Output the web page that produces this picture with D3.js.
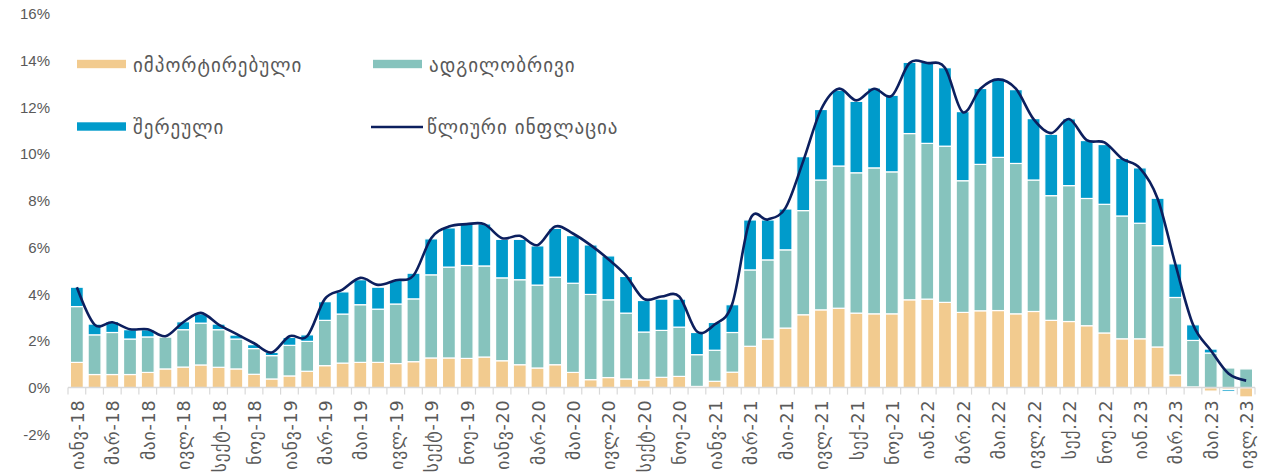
<!DOCTYPE html>
<html>
<head>
<meta charset="utf-8">
<script src="https://cdn.jsdelivr.net/npm/d3@7"></script>
<style>
  html, body { margin: 0; padding: 0; background: #fff; }
  svg { display: block; }
</style>
</head>
<body>
<svg id="chart" width="1276" height="475"></svg>
<script>
// ---------- DATA ----------
const categories = [
  "2018-01","2018-02","2018-03","2018-04","2018-05","2018-06","2018-07","2018-08","2018-09","2018-10","2018-11","2018-12",
  "2019-01","2019-02","2019-03","2019-04","2019-05","2019-06","2019-07","2019-08","2019-09","2019-10","2019-11","2019-12",
  "2020-01","2020-02","2020-03","2020-04","2020-05","2020-06","2020-07","2020-08","2020-09","2020-10","2020-11","2020-12",
  "2021-01","2021-02","2021-03","2021-04","2021-05","2021-06","2021-07","2021-08","2021-09","2021-10","2021-11","2021-12",
  "2022-01","2022-02","2022-03","2022-04","2022-05","2022-06","2022-07","2022-08","2022-09","2022-10","2022-11","2022-12",
  "2023-01","2023-02","2023-03","2023-04","2023-05","2023-06","2023-07"
];

const tickLabels = [
  "იანვ-18","მარ-18","მაი-18","ივლ-18","სექტ-18","ნოე-18",
  "იანვ-19","მარ-19","მაი-19","ივლ-19","სექტ-19","ნოე-19",
  "იანვ-20","მარ-20","მაი-20","ივლ-20","სექტ-20","ნოე-20",
  "იანვ-21","მარ-21","მაი-21","ივლ-21","სექ-21","ნოე-21",
  "იან.22","მარ.22","მაი.22","ივლ.22","სექ.22","ნოე.22",
  "იან.23","მარ.23","მაი.23","ივლ.23"
];

const seriesNames = ["იმპორტირებული","ადგილობრივი","შერეული","წლიური ინფლაცია"];

const imported = [
  1.08,0.56,0.56,0.56,0.65,0.80,0.88,0.97,0.87,0.80,0.57,0.37,
  0.50,0.70,0.94,1.05,1.08,1.08,1.03,1.11,1.27,1.27,1.25,1.31,
  1.15,0.98,0.84,0.98,0.65,0.34,0.43,0.37,0.33,0.44,0.48,0.05,
  0.27,0.66,1.77,2.08,2.55,3.12,3.33,3.40,3.19,3.16,3.16,3.76,
  3.79,3.65,3.22,3.29,3.30,3.16,3.26,2.88,2.83,2.65,2.34,2.09,
  2.09,1.74,0.54,0.03,-0.15,-0.08,-0.40
];

const domestic = [
  2.39,1.70,1.80,1.52,1.52,1.37,1.60,1.79,1.61,1.28,1.10,1.00,
  1.31,1.28,1.94,2.10,2.47,2.28,2.55,2.69,3.56,3.89,3.98,3.90,
  3.55,3.64,3.55,3.75,3.82,3.65,3.33,2.82,2.05,2.01,2.11,1.36,
  1.33,1.70,3.27,3.39,3.35,4.46,5.56,6.09,6.01,6.25,6.08,7.12,
  6.67,6.69,5.64,6.27,6.56,6.44,5.63,5.34,5.82,5.45,5.51,5.26,
  4.95,4.34,3.32,1.99,1.48,0.84,0.80
];

const mixed = [
  0.83,0.46,0.47,0.40,0.31,0.05,0.34,0.40,0.24,0.17,0.17,0.14,
  0.34,0.28,0.80,0.95,1.07,0.94,1.01,1.10,1.54,1.68,1.81,1.80,
  1.65,1.73,1.68,2.09,2.04,2.12,1.88,1.57,1.35,1.34,1.20,0.95,
  1.19,1.19,2.14,1.71,1.75,2.31,3.02,3.25,3.06,3.42,3.28,3.05,
  3.47,3.36,2.96,3.25,3.37,3.16,2.63,2.63,2.86,2.48,2.56,2.47,
  2.37,2.03,1.44,0.67,0.17,-0.08,0.00
];

const inflation = [
  4.3,2.7,2.8,2.5,2.5,2.2,2.8,3.2,2.7,2.3,1.9,1.5,
  2.2,2.2,3.8,4.2,4.7,4.4,4.6,4.8,6.4,6.9,7.0,7.0,
  6.4,6.5,6.1,6.9,6.6,6.1,5.5,4.8,3.8,3.9,3.9,2.4,
  2.7,3.6,7.2,7.2,7.7,9.7,11.9,12.8,12.3,12.8,12.5,13.9,
  13.9,13.7,11.8,12.8,13.2,12.8,11.5,10.9,11.5,10.6,10.5,9.8,
  9.4,8.1,5.3,2.7,1.6,0.6,0.3
];

const yTicks = [-2,0,2,4,6,8,10,12,14,16];

// ---------- STYLE ----------
const colors = { imp: "#F2CB8F", dom: "#86C3BD", mix: "#009BCB", line: "#0C1F5E" };
const textColor = "#595959";
const geoFont = "'DejaVu Sans', 'Noto Sans', sans-serif";
const numFont = "'Liberation Sans', 'DejaVu Sans', sans-serif";

const svg = d3.select("#chart");

const x = d3.scaleBand()
  .domain(categories)
  .range([68, 1255])
  .paddingInner(0.27)
  .paddingOuter(0.135);

const y = d3.scaleLinear().domain([-2, 16]).range([434.3, 14]);

// table for stacking
const table = categories.map((c, i) => ({ cat: c, imp: imported[i], dom: domestic[i], mix: mixed[i] }));
const keys = ["imp", "dom", "mix"];
const stacked = d3.stack().keys(keys).offset(d3.stackOffsetDiverging)(table);

// Y axis labels
const yAxis = d3.axisLeft(y).tickValues(yTicks).tickFormat(d => d + "%").tickSize(0).tickPadding(0);
const gy = svg.append("g").attr("transform", "translate(50,0)").call(yAxis);
gy.select(".domain").remove();
gy.selectAll("text")
  .attr("fill", textColor)
  .style("font-family", numFont)
  .style("font-size", "15px");

// Bars
svg.append("g").selectAll("g")
  .data(stacked)
  .join("g")
  .attr("fill", s => colors[s.key])
  .selectAll("rect")
  .data(s => s)
  .join("rect")
  .attr("x", d => x(d.data.cat))
  .attr("width", x.bandwidth())
  .attr("y", d => y(Math.max(d[0], d[1])))
  .attr("height", d => Math.abs(y(d[0]) - y(d[1])))
  .attr("stroke", "#fff")
  .attr("stroke-width", 1.2);

// X axis baseline and boundary ticks
const step = x.step();
const x0 = x.range()[0];
const gx = svg.append("g");
gx.append("line")
  .attr("x1", x0).attr("x2", x.range()[1])
  .attr("y1", y(0)).attr("y2", y(0))
  .attr("stroke", "#D9D9D9").attr("stroke-width", 1.5);
gx.selectAll("line.tk")
  .data(d3.range(categories.length + 1))
  .join("line")
  .attr("class", "tk")
  .attr("x1", i => x0 + i * step).attr("x2", i => x0 + i * step)
  .attr("y1", y(0)).attr("y2", y(0) + 7)
  .attr("stroke", "#D9D9D9").attr("stroke-width", 1.2);

// X axis labels (every other month)
const labelCats = categories.filter((c, i) => i % 2 === 0);
const xAxis = d3.axisBottom(x)
  .tickValues(labelCats)
  .tickFormat(c => tickLabels[labelCats.indexOf(c)])
  .tickSize(0).tickPadding(0);
const gxl = svg.append("g").attr("transform", `translate(0,${y(0)})`).call(xAxis);
gxl.select(".domain").remove();
gxl.selectAll("text")
  .attr("transform", "rotate(-90)")
  .attr("text-anchor", "end")
  .attr("x", -12)
  .attr("y", 1)
  .attr("dy", "0.35em")
  .attr("fill", textColor)
  .style("font-family", geoFont)
  .style("font-size", "17.5px")
  .style("letter-spacing", "0.8px");

// Inflation line
const line = d3.line()
  .x((v, i) => x(categories[i]) + x.bandwidth() / 2)
  .y(v => y(v))
  .curve(d3.curveCardinal.tension(0));
svg.append("path")
  .datum(inflation)
  .attr("d", line)
  .attr("fill", "none")
  .attr("stroke", colors.line)
  .attr("stroke-width", 2.6);

// Legend
const legend = [
  { name: seriesNames[0], color: colors.imp, type: "rect", sx: 77, ty: 64 },
  { name: seriesNames[1], color: colors.dom, type: "rect", sx: 373, ty: 64 },
  { name: seriesNames[2], color: colors.mix, type: "rect", sx: 77, ty: 126.5 },
  { name: seriesNames[3], color: colors.line, type: "line", sx: 371, ty: 126.5 }
];
const lg = svg.append("g");
legend.forEach(l => {
  if (l.type === "rect") {
    lg.append("rect").attr("x", l.sx).attr("y", l.ty - 4.2).attr("width", 49).attr("height", 8.4).attr("fill", l.color);
  } else {
    lg.append("line").attr("x1", l.sx).attr("x2", l.sx + 52).attr("y1", l.ty + 0.5).attr("y2", l.ty + 0.5)
      .attr("stroke", l.color).attr("stroke-width", 2.6);
  }
  lg.append("text")
    .attr("x", l.sx + 56)
    .attr("y", l.ty + 7.5)
    .attr("fill", textColor)
    .style("font-family", geoFont)
    .style("font-size", "19px")
    .style("letter-spacing", "1px")
    .text(l.name);
});
</script>
</body>
</html>
